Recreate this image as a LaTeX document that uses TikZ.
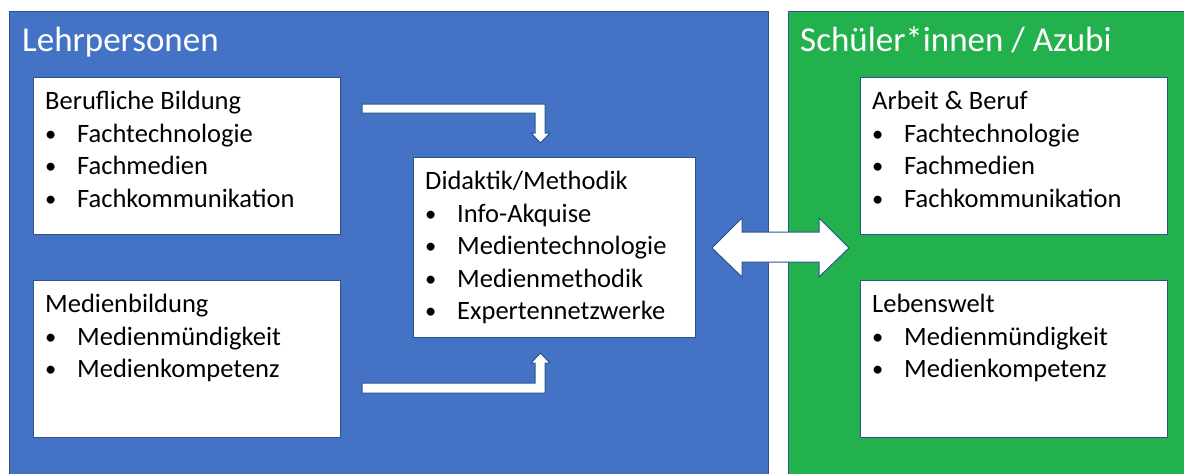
\documentclass[tikz,border=0pt]{standalone}
\usepackage{fontspec}
\setmainfont{Carlito}
\usetikzlibrary{calc}
\definecolor{panelblue}{HTML}{4472C4}
\definecolor{panelgreen}{HTML}{22B14C}
\definecolor{edgeblue}{HTML}{2F528F}
\def\bul#1{\makebox[32pt][l]{\raisebox{1pt}{\scalebox{0.85}{\textbullet}}}#1}
\tikzset{
  panel/.style={draw=edgeblue, line width=0.8pt},
  whitebox/.style={draw=edgeblue, line width=1pt, fill=white, anchor=north west, inner sep=0pt},
  boxtext/.style={anchor=north west, inner sep=0pt, align=left, font=\fontsize{26.5}{32.5}\selectfont},
  title/.style={anchor=base west, inner sep=0pt, text=white, font=\fontsize{35}{40}\selectfont},
  blockarrow/.style={draw=edgeblue, line width=1pt, fill=white, line join=miter}
}
\begin{document}
\begin{tikzpicture}[x=1pt,y=-1pt]
			%%%%% panels %%%%%
			\useasboundingbox (0,0) rectangle (1184,474);
			\fill[white] (0,0) rectangle (1184,474);
			\draw[panel, fill=panelblue] (9,11) rectangle (768,480);
			\draw[panel, fill=panelgreen] (788,11) rectangle (1190,480);
			
			\node[title] (lehr) at (22,51) {Lehrpersonen};
			\node[title] (schueler) at (800,51) {Schüler*innen / Azubi};
			
			%%%%% boxes %%%%%
			\node[whitebox, minimum width=307pt, minimum height=157pt] (bb) at (33,77) {};
			\node[whitebox, minimum width=307pt, minimum height=157pt] (mb) at (33,280) {};
			\node[whitebox, minimum width=282pt, minimum height=180pt] (dm) at (413,157) {};
			\node[whitebox, minimum width=307pt, minimum height=157pt] (ab) at (860,77) {};
			\node[whitebox, minimum width=307pt, minimum height=157pt] (lw) at (860,280) {};
			
			\node[boxtext] (bbtext) at ($(bb.north west)+(12,14)$) {Berufliche Bildung\\ \bul{Fachtechnologie}\\ \bul{Fachmedien}\\ \bul{Fachkommunikation}};
			\node[boxtext] (mbtext) at ($(mb.north west)+(12,14)$) {Medienbildung\\ \bul{Medienmündigkeit}\\ \bul{Medienkompetenz}};
			\node[boxtext] (dmtext) at ($(dm.north west)+(12,14)$) {Didaktik/Methodik\\ \bul{Info-Akquise}\\ \bul{Medientechnologie}\\ \bul{Medienmethodik}\\ \bul{Expertennetzwerke}};
			\node[boxtext] (abtext) at ($(ab.north west)+(12,14)$) {Arbeit \& Beruf\\ \bul{Fachtechnologie}\\ \bul{Fachmedien}\\ \bul{Fachkommunikation}};
			\node[boxtext] (lwtext) at ($(lw.north west)+(12,14)$) {Lebenswelt\\ \bul{Medienmündigkeit}\\ \bul{Medienkompetenz}};
			
			%%%%% arrows %%%%%
			\draw[blockarrow] (362,104) -- (545,104) -- (545,133) -- (550,133) -- (540.5,143) -- (531,133) -- (535,133) -- (535,113) -- (362,113) -- cycle;
			\draw[blockarrow] (362,393) -- (545,393) -- (545,363) -- (550,363) -- (540.5,353) -- (531,363) -- (535,363) -- (535,383) -- (362,383) -- cycle;
			\draw[blockarrow] (712,248) -- (742,218) -- (742,232) -- (819,232) -- (819,218) -- (849,248) -- (819,277) -- (819,262) -- (742,262) -- (742,277) -- cycle;
			
			%%%%% END %%%%%
		\end{tikzpicture}
\end{document}
